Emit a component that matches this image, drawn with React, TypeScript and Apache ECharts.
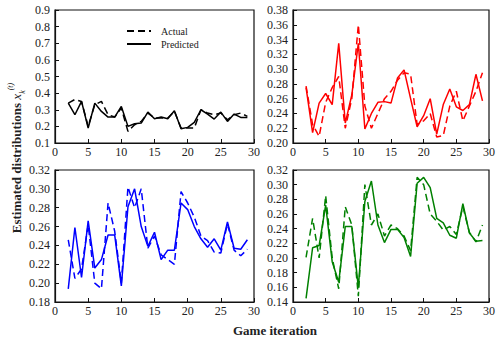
import React, { useEffect, useRef } from "react";
import * as echarts from "echarts";

const iterations = [2, 3, 4, 5, 6, 7, 8, 9, 10, 11, 12, 13, 14, 15, 16, 17, 18, 19, 20, 21, 22, 23, 24, 25, 26, 27, 28, 29];

const blackPredicted = [0.34, 0.27, 0.35, 0.19, 0.34, 0.29, 0.256, 0.256, 0.32, 0.2, 0.216, 0.22, 0.286, 0.246, 0.256, 0.246, 0.294, 0.186, 0.194, 0.224, 0.3, 0.274, 0.244, 0.286, 0.23, 0.274, 0.254, 0.254];
const blackActual = [0.34, 0.362, 0.35, 0.2, 0.33, 0.35, 0.27, 0.256, 0.31, 0.17, 0.21, 0.23, 0.28, 0.25, 0.25, 0.25, 0.29, 0.19, 0.19, 0.19, 0.3, 0.28, 0.27, 0.28, 0.24, 0.27, 0.28, 0.26];

const redPredicted = [0.275, 0.214, 0.254, 0.267, 0.252, 0.335, 0.227, 0.265, 0.335, 0.219, 0.24, 0.255, 0.256, 0.254, 0.288, 0.299, 0.26, 0.222, 0.237, 0.26, 0.212, 0.252, 0.273, 0.249, 0.244, 0.252, 0.293, 0.257];
const redActual = [0.277, 0.225, 0.209, 0.255, 0.275, 0.29, 0.22, 0.26, 0.36, 0.25, 0.22, 0.24, 0.26, 0.27, 0.285, 0.295, 0.293, 0.225, 0.23, 0.24, 0.208, 0.21, 0.25, 0.27, 0.23, 0.25, 0.27, 0.295];

const bluePredicted = [0.194, 0.259, 0.206, 0.266, 0.216, 0.225, 0.251, 0.251, 0.197, 0.281, 0.3, 0.26, 0.239, 0.254, 0.225, 0.235, 0.235, 0.285, 0.278, 0.26, 0.247, 0.238, 0.247, 0.235, 0.265, 0.237, 0.236, 0.246];
const blueActual = [0.246, 0.205, 0.215, 0.262, 0.2, 0.194, 0.285, 0.255, 0.2, 0.302, 0.28, 0.3, 0.237, 0.25, 0.23, 0.225, 0.22, 0.297, 0.285, 0.27, 0.25, 0.245, 0.233, 0.232, 0.263, 0.235, 0.229, 0.236];

const greenPredicted = [0.145, 0.214, 0.217, 0.272, 0.195, 0.167, 0.243, 0.243, 0.16, 0.277, 0.305, 0.245, 0.221, 0.239, 0.239, 0.228, 0.202, 0.302, 0.31, 0.296, 0.254, 0.248, 0.231, 0.227, 0.274, 0.234, 0.223, 0.224];
const greenActual = [0.201, 0.254, 0.2, 0.285, 0.2, 0.158, 0.27, 0.245, 0.148, 0.3, 0.245, 0.26, 0.23, 0.245, 0.24, 0.23, 0.21, 0.31, 0.3, 0.26, 0.25, 0.238, 0.243, 0.232, 0.27, 0.235, 0.222, 0.245];

const xTicks = { min: 0, max: 30, interval: 5 };
const yRanges = [
  { min: 0.1, max: 0.9, interval: 0.1, decimals: 1 },
  { min: 0.2, max: 0.38, interval: 0.02, decimals: 2 },
  { min: 0.18, max: 0.32, interval: 0.02, decimals: 2 },
  { min: 0.14, max: 0.32, interval: 0.02, decimals: 2 },
];

const panels = [
  { color: "#000000", actual: blackActual, predicted: blackPredicted, names: ["Actual", "Predicted"] },
  { color: "#ff0000", actual: redActual, predicted: redPredicted, names: ["Actual red", "Predicted red"] },
  { color: "#0000ff", actual: blueActual, predicted: bluePredicted, names: ["Actual blue", "Predicted blue"] },
  { color: "#008000", actual: greenActual, predicted: greenPredicted, names: ["Actual green", "Predicted green"] },
];

const FONT = "'Liberation Serif', 'DejaVu Serif', serif";

export default function App() {
  const ref = useRef<HTMLDivElement>(null);
  useEffect(() => {
    if (!ref.current) return;
    const chart = echarts.init(ref.current, null, { renderer: "svg" });
    const grids = [
      { left: 55, top: 10, width: 199, height: 133 },
      { left: 293, top: 10, width: 199, height: 133 },
      { left: 55, top: 170, width: 199, height: 132 },
      { left: 293, top: 170, width: 199, height: 132 },
    ].map((g) => ({ ...g, show: true, borderColor: "#111", borderWidth: 1.2, backgroundColor: "transparent" }));

    const xAxes = grids.map((_, i) => ({
      type: "value",
      gridIndex: i,
      ...xTicks,
      axisLine: { show: true, onZero: false, lineStyle: { color: "#111", width: 1.2 } },
      axisTick: { show: true, inside: true, length: 4, lineStyle: { color: "#111" } },
      axisLabel: { color: "#222", fontFamily: FONT, fontSize: 12, margin: 3 },
      splitLine: { show: false },
    }));
    const yAxes = yRanges.map((r, i) => ({
      type: "value",
      gridIndex: i,
      min: r.min,
      max: r.max,
      interval: r.interval,
      axisLine: { show: true, onZero: false, lineStyle: { color: "#111", width: 1.2 } },
      axisTick: { show: true, inside: true, length: 4, lineStyle: { color: "#111" } },
      axisLabel: {
        color: "#222",
        fontFamily: FONT,
        fontSize: 12,
        margin: 5,
        formatter: (v: number) => v.toFixed(r.decimals),
      },
      splitLine: { show: false },
    }));

    const series: any[] = [];
    panels.forEach((p, i) => {
      series.push({
        name: p.names[0],
        type: "line",
        xAxisIndex: i,
        yAxisIndex: i,
        symbol: "none",
        data: iterations.map((x, k) => [x, p.actual[k]]),
        lineStyle: { color: p.color, width: 1.5, type: [7, 4] },
        itemStyle: { color: p.color },
      });
      series.push({
        name: p.names[1],
        type: "line",
        xAxisIndex: i,
        yAxisIndex: i,
        symbol: "none",
        data: iterations.map((x, k) => [x, p.predicted[k]]),
        lineStyle: { color: p.color, width: 1.5, type: "solid" },
        itemStyle: { color: p.color },
      });
    });

    chart.setOption({
      animation: false,
      backgroundColor: "#ffffff",
      grid: grids,
      xAxis: xAxes,
      yAxis: yAxes,
      series,
      legend: {
        data: ["Actual", "Predicted"],
        orient: "vertical",
        left: 121,
        top: 21,
        itemWidth: 24,
        itemHeight: 10,
        itemGap: 3,
        itemStyle: { opacity: 0 },
        textStyle: { fontFamily: FONT, fontSize: 10, color: "#222", padding: [0, 0, 0, 5] },
      },
      graphic: [
        {
          type: "text",
          x: 275,
          y: 330,
          style: {
            text: "Game iteration",
            fontFamily: FONT,
            fontSize: 13,
            fontWeight: "bold",
            fill: "#222",
            align: "center",
            verticalAlign: "middle",
          },
        },
        {
          type: "text",
          x: 16,
          y: 158,
          rotation: Math.PI / 2,
          style: {
            text: "Estimated distributions {i|x}{sub|k}{sup|(t)}",
            fontFamily: FONT,
            fontSize: 13,
            fontWeight: "bold",
            fill: "#222",
            align: "center",
            verticalAlign: "middle",
            lineHeight: 20,
            rich: {
              i: { fontFamily: FONT, fontSize: 13, fontStyle: "italic", fill: "#222", lineHeight: 20 },
              sub: { fontFamily: FONT, fontSize: 8, fontStyle: "italic", fill: "#222", verticalAlign: "bottom", lineHeight: 20 },
              sup: { fontFamily: FONT, fontSize: 8, fontStyle: "italic", fill: "#222", verticalAlign: "top", lineHeight: 20 },
            },
          },
        },
      ],
    });
    return () => chart.dispose();
  }, []);
  return (
    <div
      ref={ref}
      style={{ position: "fixed", left: 0, top: 0, width: 498, height: 341, background: "#fff" }}
    />
  );
}
